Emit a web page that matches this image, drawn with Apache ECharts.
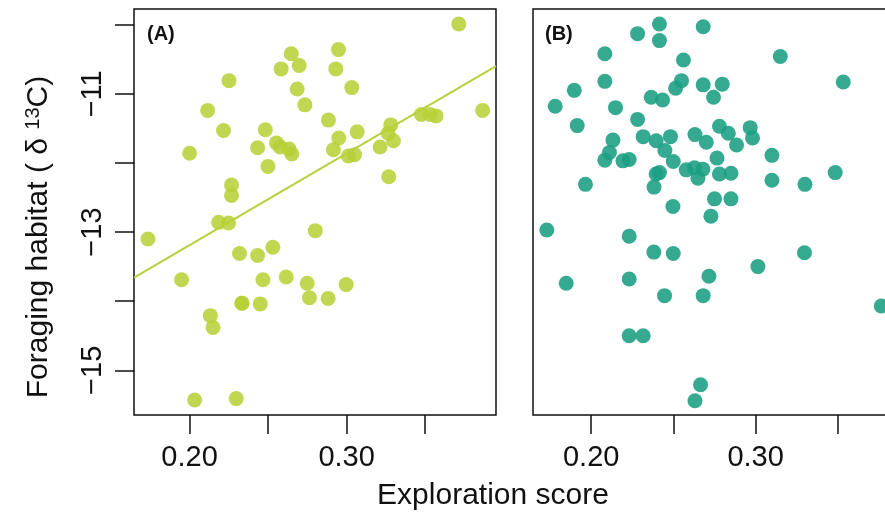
<!DOCTYPE html>
<html>
<head>
<meta charset="utf-8">
<script src="https://cdn.jsdelivr.net/npm/echarts@6/dist/echarts.min.js"></script>
<style>html,body{margin:0;padding:0;background:#fff}#c{width:885px;height:515px}</style>
</head>
<body>
<div id="c"></div>
<script>
// Panel A data (exploration score, delta13C)
const panelAX = [0.3714,0.2948,0.2647,0.2583,0.2698,0.2931,0.2251,0.2685,0.3033,0.2734,0.2115,0.3866,0.3476,0.3531,0.3569,0.2884,0.2216,0.2482,0.3281,0.3264,0.3067,0.2950,0.3298,0.2553,0.2577,0.2433,0.2634,0.2651,0.2916,0.3213,0.3011,0.3050,0.2000,0.2499,0.3268,0.2267,0.2267,0.2185,0.2248,0.1735,0.2800,0.2318,0.2433,0.2530,0.1949,0.2467,0.2615,0.2749,0.2997,0.2763,0.2882,0.2333,0.2333,0.2450,0.2132,0.2149,0.2032,0.2297];
const panelAY = [-9.99,-10.36,-10.42,-10.64,-10.59,-10.64,-10.81,-10.93,-10.91,-11.16,-11.24,-11.24,-11.30,-11.30,-11.32,-11.38,-11.53,-11.52,-11.45,-11.57,-11.55,-11.64,-11.68,-11.71,-11.77,-11.78,-11.80,-11.87,-11.81,-11.77,-11.90,-11.88,-11.86,-12.05,-12.20,-12.32,-12.47,-12.86,-12.87,-13.10,-12.98,-13.31,-13.34,-13.22,-13.69,-13.69,-13.65,-13.74,-13.76,-13.95,-13.96,-14.03,-14.03,-14.04,-14.21,-14.38,-15.43,-15.41];
// Fitted line in panel A (end points)
const fitX = [0.1646, 0.3951];
const fitY = [-13.66, -10.60];
// Panel B data
const panelBX = [0.2415,0.2415,0.2681,0.2282,0.2083,0.2561,0.3150,0.2083,0.2549,0.2513,0.2681,0.2797,0.3533,0.1897,0.2744,0.2365,0.2434,0.1781,0.2148,0.2282,0.1915,0.2780,0.2967,0.2834,0.2981,0.2316,0.2482,0.2631,0.2132,0.2395,0.2700,0.2884,0.2448,0.2111,0.2083,0.2193,0.2231,0.3099,0.2765,0.2499,0.2578,0.2628,0.2679,0.2649,0.2780,0.2850,0.2415,0.2395,0.2382,0.1965,0.3099,0.3300,0.3484,0.2750,0.2850,0.2497,0.2728,0.1730,0.2231,0.2381,0.2499,0.3297,0.3014,0.1848,0.2231,0.2716,0.2446,0.2681,0.3764,0.2231,0.2316,0.2665,0.2631];
const panelBY = [-9.99,-10.23,-10.03,-10.13,-10.42,-10.51,-10.46,-10.82,-10.81,-10.92,-10.87,-10.86,-10.83,-10.95,-11.05,-11.05,-11.09,-11.18,-11.20,-11.37,-11.46,-11.47,-11.49,-11.57,-11.64,-11.62,-11.62,-11.59,-11.67,-11.68,-11.70,-11.74,-11.82,-11.85,-11.96,-11.97,-11.95,-11.89,-11.93,-11.98,-12.10,-12.07,-12.09,-12.22,-12.16,-12.15,-12.14,-12.16,-12.35,-12.31,-12.25,-12.31,-12.14,-12.52,-12.52,-12.63,-12.77,-12.97,-13.06,-13.29,-13.31,-13.30,-13.50,-13.74,-13.68,-13.64,-13.92,-13.92,-14.07,-14.50,-14.50,-15.21,-15.44];
// Axis ticks and labels
const xTicks = [0.20, 0.25, 0.30, 0.35];
const xLabels = [0.20, 0.30];
const yTicks = [-15, -14, -13, -12, -11, -10];
const yLabels = [-15, -13, -11];
const xRange = [0.1646, 0.3951];
const yRange = [-15.647, -9.773];

const zip = (a, b) => a.map((v, i) => [v, b[i]]);
const FONT = '"Liberation Sans", Arial, sans-serif';
const INK = '#111';

function xAxisDef(gridIndex) {
  return {
    type: 'value', gridIndex, min: xRange[0], max: xRange[1],
    axisLine: {show: false},
    splitLine: {show: false},
    axisTick: {show: true, inside: false, length: 19, customValues: xTicks, lineStyle: {color: INK, width: 1.5}},
    axisLabel: {show: true, customValues: xLabels, margin: 28, fontSize: 29, fontFamily: FONT, color: INK,
      formatter: v => v.toFixed(2)}
  };
}
function yAxisDef(gridIndex, showTicks) {
  return {
    type: 'value', gridIndex, min: yRange[0], max: yRange[1],
    axisLine: {show: false},
    splitLine: {show: false},
    axisTick: {show: showTicks, inside: false, length: 19, customValues: yTicks, lineStyle: {color: INK, width: 1.5}},
    axisLabel: {show: showTicks, customValues: yLabels, rotate: 90, margin: 27, fontSize: 29, fontFamily: FONT, color: INK,
      formatter: v => String(v).replace('-', '\u2212')}
  };
}

const chart = echarts.init(document.getElementById('c'), null, {renderer: 'canvas'});
chart.setOption({
  animation: false,
  backgroundColor: '#fff',
  grid: [
    {left: 134, top: 9, width: 362, height: 406, show: true, borderColor: INK, borderWidth: 1.5, backgroundColor: 'transparent', outerBoundsMode: 'none', containLabel: false},
    {left: 533, top: 9, width: 379, height: 406, show: true, borderColor: INK, borderWidth: 1.5, backgroundColor: 'transparent', outerBoundsMode: 'none', containLabel: false}
  ],
  xAxis: [xAxisDef(0), xAxisDef(1)],
  yAxis: [yAxisDef(0, true), yAxisDef(1, false)],
  series: [
    {type: 'scatter', xAxisIndex: 0, yAxisIndex: 0, data: zip(panelAX, panelAY), symbolSize: 15,
      itemStyle: {color: 'rgb(182,208,52)', opacity: 0.85}},
    {type: 'line', xAxisIndex: 0, yAxisIndex: 0, data: zip(fitX, fitY), symbol: 'none',
      lineStyle: {color: 'rgb(184,208,60)', width: 2}},
    {type: 'scatter', xAxisIndex: 1, yAxisIndex: 1, data: zip(panelBX, panelBY), symbolSize: 15,
      itemStyle: {color: 'rgb(26,158,130)', opacity: 0.88}}
  ],
  graphic: [
    {type: 'text', left: 147, top: 24, style: {text: '(A)', font: 'bold 20px ' + FONT, fill: INK}},
    {type: 'text', left: 545, top: 24, style: {text: '(B)', font: 'bold 20px ' + FONT, fill: INK}},
    {type: 'text', x: 493, y: 496, style: {text: 'Exploration score', font: '30px ' + FONT, fill: INK, align: 'center', verticalAlign: 'middle'}},
    {type: 'text', x: 39, y: 237, rotation: Math.PI / 2,
      style: {text: 'Foraging habitat ( \u03b4 {sup|13}C)', font: '30px ' + FONT, fill: INK, align: 'center', verticalAlign: 'middle',
        rich: {sup: {fontSize: 20, fontFamily: FONT, fill: INK, verticalAlign: 'top', padding: [0, 0, 12, 0]}}}}
  ]
});
</script>
</body>
</html>
